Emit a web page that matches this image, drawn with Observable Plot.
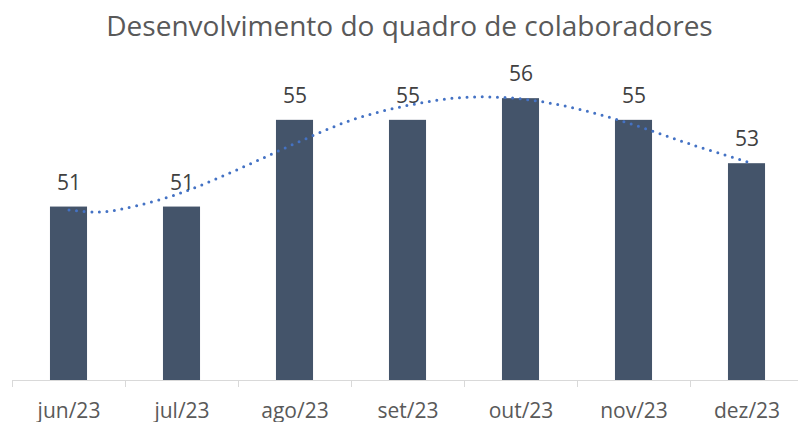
<!DOCTYPE html>
<html>
<head>
<meta charset="utf-8">
<script src="https://cdn.jsdelivr.net/npm/d3@7"></script>
<script src="https://cdn.jsdelivr.net/npm/@observablehq/plot@0.6"></script>
<style>
  html, body { margin: 0; padding: 0; background: #fff; }
  #chart svg { display: block; }
</style>
</head>
<body>
<div id="chart"></div>
<script>
const titleText = "Desenvolvimento do quadro de colaboradores";
const months = ["jun/23", "jul/23", "ago/23", "set/23", "out/23", "nov/23", "dez/23"];
const headcount = [51, 51, 55, 55, 56, 55, 53];
// dotted trendline at fractional month positions
const trendPos = [0, 0.25, 0.5, 1, 1.5, 2, 2.5, 3, 3.5, 4, 4.5, 5, 5.5, 6];
const trendVal = [50.87, 50.77, 50.94, 51.67, 52.75, 53.93, 55.01, 55.69, 56.06, 55.99, 55.53, 54.79, 53.90, 53.09];

const bars = months.map((m, i) => ({i, month: m, value: headcount[i]}));
const trend = trendPos.map((p, k) => ({p, v: trendVal[k]}));
const bounds = d3.range(-0.5, months.length, 1);

const font = "'Open Sans', sans-serif";
const yMin = 43;
const halfBar = 0.164;

const chart = Plot.plot({
  width: 798,
  height: 422,
  marginTop: 0, marginBottom: 0, marginLeft: 0, marginRight: 0,
  style: {fontFamily: font, background: "#ffffff"},
  x: {type: "linear", domain: [-0.5, 6.5], range: [12, 803]},
  y: {type: "linear", domain: [43, 58], range: [380, 54.8], axis: null},
  marks: [
    Plot.rect(bars, {x1: d => d.i - halfBar, x2: d => d.i + halfBar, y1: yMin, y2: "value", fill: "#44546a"}),
    Plot.ruleY([yMin], {x1: -0.5, x2: 6.5, stroke: "#d9d9d9", strokeWidth: 1}),
    Plot.axisX(bounds, {tickSize: 7, tickFormat: () => "", stroke: "#d9d9d9", anchor: "bottom", y: yMin, frameAnchor: null}),
    Plot.text(months, {x: (d, i) => i, y: yMin, dy: 37, lineAnchor: "bottom", fontSize: 21, fill: "#595959", text: d => d}),
    Plot.line(trend, {x: "p", y: "v", curve: "catmull-rom", stroke: "#4472c4", strokeWidth: 3, strokeDasharray: "0 7.6", strokeLinecap: "round"}),
    Plot.text(bars, {x: "i", y: "value", text: d => String(d.value), dy: -17.5, lineAnchor: "bottom", fontSize: 21, fill: "#404040"}),
    Plot.text([titleText], {frameAnchor: "top", dx: 10, dy: 35, lineAnchor: "bottom", fontSize: 28, fill: "#595959", text: d => d})
  ]
});
document.getElementById("chart").appendChild(chart);
</script>
</body>
</html>
